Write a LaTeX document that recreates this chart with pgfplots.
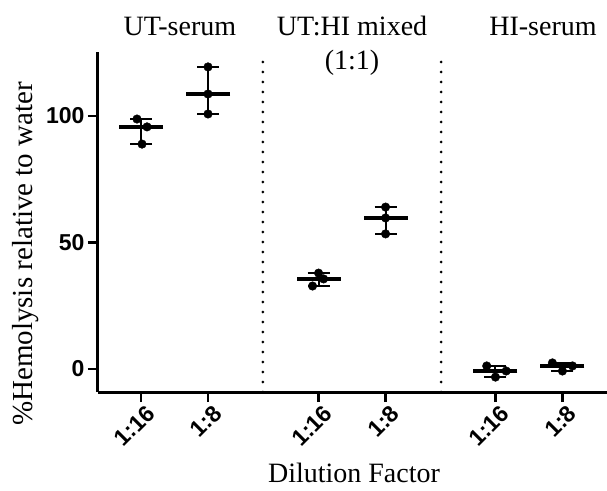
\documentclass[border=0pt]{standalone}
\usepackage{pgfplots}
\pgfplotsset{compat=1.18}
\usepackage{fontspec}
\setmainfont{Liberation Serif}
\newfontfamily\arialfont{Liberation Sans}
\begin{document}
\begin{tikzpicture}
\begin{axis}[
  scale only axis, width=509pt, height=340pt,
  xmin=0.358, xmax=7.955, ymin=-9.1, ymax=125.3,
  axis x line*=bottom, axis y line*=left,
  axis line style={line width=3pt, black},
  xtick={1,2,3.65,4.65,6.29,7.29},
  xticklabels={1:16,1:8,1:16,1:8,1:16,1:8},
  ytick={0,50,100}, yticklabels={0,50,100},
  tick style={line width=2.5pt, black},
  major tick length=10pt, tick align=outside,
  ticklabel style={font=\arialfont\bfseries\fontsize{23}{23}\selectfont},
  xticklabel style={rotate=45, anchor=east, xshift=5pt, yshift=-12pt},
  clip=false,
  xlabel={Dilution Factor}, ylabel={\%Hemolysis relative to water},
  label style={font=\fontsize{28}{28}\selectfont},
  xlabel style={at={(axis description cs:0.503,-0.265)}, anchor=base},
  ylabel style={at={(axis description cs:-0.143,0.406)}, anchor=center, font=\fontsize{29}{29}\selectfont},
]
\coordinate (ll) at (rel axis cs:0,0);
\coordinate (ur) at (rel axis cs:1,1);
% dotted separators
\addplot[black, line width=3pt, dash pattern=on 0pt off 10pt, line cap=round] coordinates {(2.82,-9.1) (2.82,125.3)};
\addplot[black, line width=3pt, dash pattern=on 0pt off 10pt, line cap=round] coordinates {(5.48,-9.1) (5.48,125.3)};
% range bars
\addplot[only marks, mark=none, error bars/.cd, y dir=both, y explicit,
  error bar style={black, line width=2pt, solid},
  error mark=|, error mark options={black, line width=2pt, mark size=11pt}] coordinates {
  (1,95.7) += (0,3.1) -= (0,6.8)
  (2,108.7) += (0,10.7) -= (0,7.9)
  (3.65,35.6) += (0,2.3) -= (0,2.8)
  (4.65,59.7) += (0,4.3) -= (0,6.3)
  (6.29,-0.8) += (0,2.0) -= (0,2.4)
  (7.29,1.2) += (0,1.2) -= (0,2.0)
};
% individual points
\addplot[only marks, mark=*, mark size=4.3pt, black] coordinates {
  (0.94,98.8) (1.09,95.7) (1.015,88.9)
  (2,119.4) (2,108.7) (2,100.8)
  (3.65,37.9) (3.725,35.6) (3.56,32.8)
  (4.65,64.0) (4.65,59.7) (4.65,53.4)
  (6.16,1.2) (6.45,-0.8) (6.29,-3.2)
  (7.14,2.4) (7.44,1.2) (7.29,-0.8)
};
% medians
\addplot[only marks, mark=-, mark size=22pt, mark options={line width=4pt}, black] coordinates {
  (1,95.7) (2,108.7) (3.65,35.6) (4.65,59.7) (6.29,-0.8) (7.29,1.2)
};
\node[anchor=base, font=\fontsize{28}{28}\selectfont] at (axis cs:1.58,132) {UT-serum};
\node[anchor=base, font=\fontsize{28}{28}\selectfont] at (axis cs:4.15,132) {UT:HI mixed};
\node[anchor=base, font=\fontsize{28}{28}\selectfont] at (axis cs:4.15,118.2) {(1:1)};
\node[anchor=base, font=\fontsize{28}{28}\selectfont] at (axis cs:7.0,132) {HI-serum};
\end{axis}
\pgfresetboundingbox
\path ([shift={(-98pt,-98pt)}]ll) rectangle ([shift={(0pt,52pt)}]ur);
\end{tikzpicture}
\end{document}
